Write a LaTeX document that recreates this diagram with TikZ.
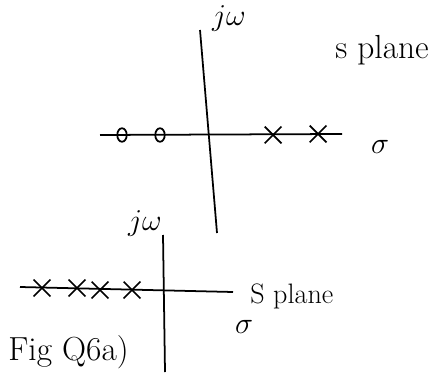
\documentclass[tikz,border=0pt]{standalone}
\usetikzlibrary{shapes.misc,shapes.geometric}
\begin{document}
\begin{tikzpicture}[
        x=0.02cm, y=-0.02cm,
        axis/.style={line width=1pt, black},
        pole/.style={cross out, draw, line width=1pt, minimum size=0.3cm, inner sep=0pt},
        zero/.style={ellipse, draw, line width=1pt, minimum width=0.19cm, minimum height=0.27cm, inner sep=0pt},
        lbl/.style={font=\fontsize{16}{19}\selectfont, inner sep=0pt},
        big/.style={font=\fontsize{19}{22}\selectfont, inner sep=0pt}
    ]
        \useasboundingbox (0,0) rectangle (438,374);

        % Upper s plane: axes
        \draw[axis] (100,135) -- (342,134);
        \draw[axis] (200,30) -- (217,233);
        \node[lbl] (jwA) at (229,19) {$j\omega$};
        \node[lbl] (sigA) at (380,147) {$\sigma$};
        \node[big] (planeA) at (382,50) {s plane};

        % Upper s plane: zeros and poles
        \node[zero] (z1) at (122,135) {};
        \node[zero] (z2) at (160,135) {};
        \node[pole] (p1) at (273,135) {};
        \node[pole] (p2) at (318,134) {};

        % Lower s plane: axes
        \draw[axis] (20,287) -- (233,292);
        \draw[axis] (163,235) -- (165,372);
        \node[lbl] (jwB) at (145,224) {$j\omega$};
        \node[lbl] (sigB) at (244,327) {$\sigma$};
        \node[lbl, anchor=west] (planeB) at (250,296) {S plane};

        % Lower s plane: poles
        \node[pole] (q1) at (42,288) {};
        \node[pole] (q2) at (77,288) {};
        \node[pole] (q3) at (100,290) {};
        \node[pole] (q4) at (132,290) {};

        % Caption
        \node[big, anchor=west] (cap) at (8,352) {Fig Q6a)};
    \end{tikzpicture}
\end{document}
